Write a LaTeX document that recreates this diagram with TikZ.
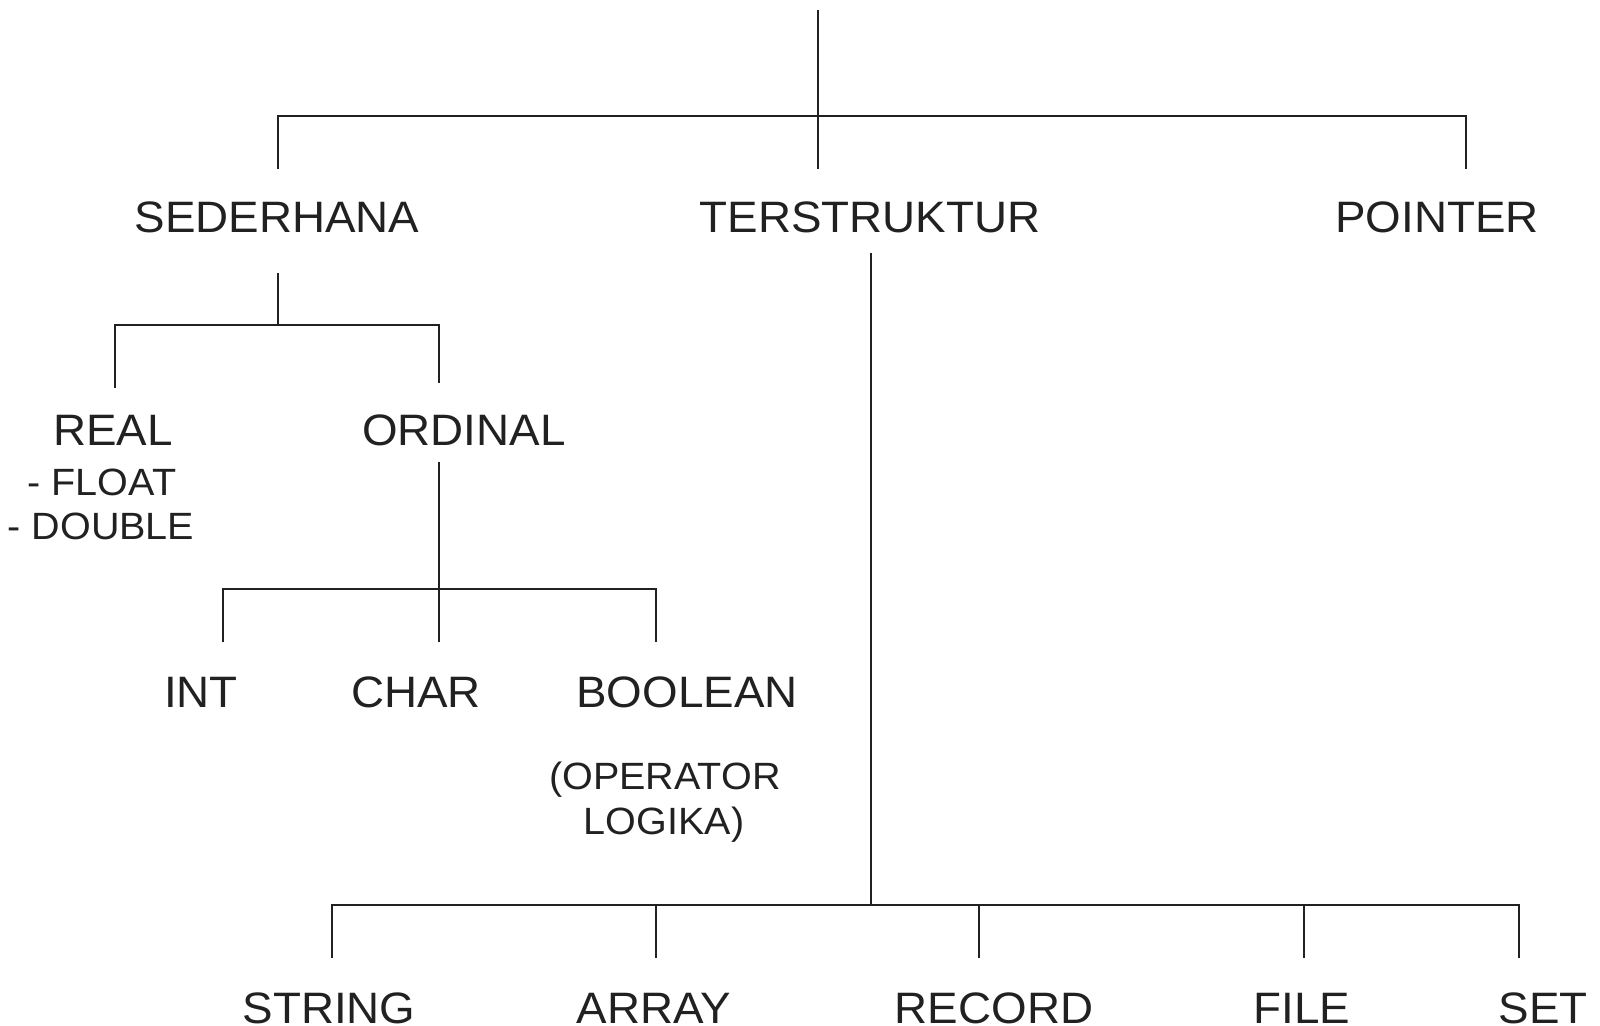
\documentclass[tikz,border=0pt]{standalone}
\usepackage{fontspec}
\setmainfont[FakeStretch=1.04]{Liberation Sans}
\definecolor{ink}{rgb}{0.13,0.13,0.13}
\begin{document}
\begin{tikzpicture}[x=0.5pt,y=-0.5pt,
  line width=1pt, draw=ink,
  lbl/.style={font=\fontsize{22}{26}\selectfont, text=ink, inner sep=0pt, anchor=base},
  sml/.style={font=\fontsize{19}{23}\selectfont, text=ink, inner sep=0pt, anchor=base},
  conn/.style={draw=ink, line width=1pt}]
\useasboundingbox (0,0) rectangle (1600,1026);

% labels
\node[lbl] (sed) at (277,233) {SEDERHANA};
\node[lbl] (ter) at (870,233) {TERSTRUKTUR};
\node[lbl] (poi) at (1437,233) {POINTER};
\node[lbl] (rea) at (113,445) {REAL};
\node[lbl] (ord) at (464,445) {ORDINAL};
\node[sml] (flo) at (102,495) {- FLOAT};
\node[sml] (dou) at (101,539) {- DOUBLE};
\node[lbl] (int) at (201,707) {INT};
\node[lbl] (cha) at (416,707) {CHAR};
\node[lbl] (boo) at (687,707) {BOOLEAN};
\node[sml] (op1) at (665,789) {(OPERATOR};
\node[sml] (op2) at (664,834) {LOGIKA)};
\node[lbl] (str) at (329,1023) {STRING};
\node[lbl] (arr) at (654,1023) {ARRAY};
\node[lbl] (rec) at (994,1023) {RECORD};
\node[lbl] (fil) at (1302,1023) {FILE};
\node[lbl] (set) at (1543,1023) {SET};

% connector points
\coordinate (root) at (818,10);
\coordinate (rootj) at (818,116);
\coordinate (rootend) at (818,169);
\coordinate (hsL) at (278,116);
\coordinate (hsR) at (1466,116);
\coordinate (sedtop) at (278,169);
\coordinate (poitop) at (1466,169);

\coordinate (sedbot) at (278,273);
\coordinate (sedj) at (278,325);
\coordinate (rl) at (115,325);
\coordinate (rr) at (439,325);
\coordinate (reatop) at (115,388);
\coordinate (ordtop) at (439,383);

\coordinate (ordbot) at (439,462);
\coordinate (ordj) at (439,589);
\coordinate (ol) at (223,589);
\coordinate (or) at (656,589);
\coordinate (inttop) at (223,642);
\coordinate (chatop) at (439,642);
\coordinate (bootop) at (656,642);

\coordinate (terbot) at (871,253);
\coordinate (terj) at (871,905);
\coordinate (tl) at (332,905);
\coordinate (tr) at (1519,905);
\coordinate (strtop) at (332,958);
\coordinate (arrj) at (656,905);
\coordinate (arrtop) at (656,958);
\coordinate (recj) at (979,905);
\coordinate (rectop) at (979,958);
\coordinate (filj) at (1304,905);
\coordinate (filtop) at (1304,958);
\coordinate (settop) at (1519,958);

% connectors
\draw[conn] (root) -- (rootend);
\draw[conn] (sedtop) -- (hsL) -- (hsR) -- (poitop);

\draw[conn] (sedbot) -- (sedj);
\draw[conn] (reatop) -- (rl) -- (rr) -- (ordtop);

\draw[conn] (ordbot) -- (chatop);
\draw[conn] (inttop) -- (ol) -- (or) -- (bootop);

\draw[conn] (terbot) -- (terj);
\draw[conn] (strtop) -- (tl) -- (tr) -- (settop);
\draw[conn] (arrj) -- (arrtop);
\draw[conn] (recj) -- (rectop);
\draw[conn] (filj) -- (filtop);
\end{tikzpicture}
\end{document}
